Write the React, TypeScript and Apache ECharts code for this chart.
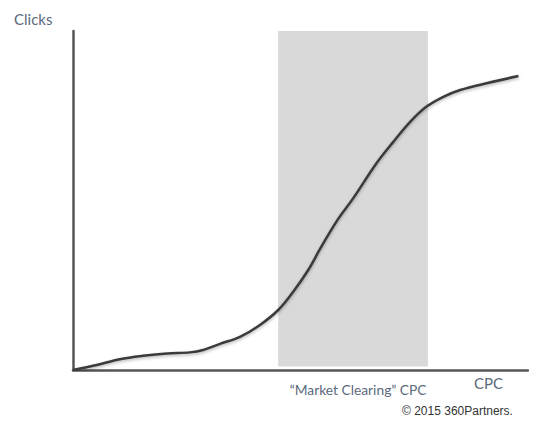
import * as echarts from 'echarts';
import { useEffect, useRef } from 'react';

// curve (CPC vs Clicks, 0-100 scale)
const cpc = [0, 5.2, 10.3, 15.4, 20.7, 25.7, 28.6, 32.3, 36.7, 41.1, 45.1, 48.4, 51.7, 54.3, 58, 61.6, 66.7, 70.4, 74.1, 77.7, 81.4, 85.1, 90.9, 97.9];
const clicks = [0, 1.5, 3.2, 4.2, 4.9, 5.2, 5.9, 7.7, 9.8, 13.3, 17.7, 23.1, 29.5, 35.7, 44, 50.7, 61, 67.3, 73.2, 77.7, 80.6, 82.6, 84.6, 86.7];

// "market clearing" band on the CPC axis
const bandFrom = 45.1;
const bandTo = 78;
const bandLabel = '\u201cMarket Clearing\u201d CPC';

const labelFont = 'Lato, "Open Sans", sans-serif';
const labelColor = '#5b6a7d';

function App() {
  const chartRef = useRef(null);

  useEffect(() => {
    const myChart = echarts.init(chartRef.current, null, { renderer: 'svg' });

    const option = {
      animation: false,
      grid: { left: 73, right: 9, top: 31, bottom: 60 },
      xAxis: {
        type: 'value',
        min: 0,
        max: 100,
        axisLine: { show: true, lineStyle: { color: '#555', width: 2.5 } },
        axisTick: { show: false },
        axisLabel: { show: false },
        splitLine: { show: false },
      },
      yAxis: {
        type: 'value',
        min: 0,
        max: 100,
        axisLine: { show: true, lineStyle: { color: '#555', width: 2.5 } },
        axisTick: { show: false },
        axisLabel: { show: false },
        splitLine: { show: false },
      },
      graphic: [
        {
          type: 'text',
          left: 14,
          top: 11,
          style: { text: 'Clicks', font: `15px ${labelFont}`, fill: labelColor },
        },
        {
          type: 'text',
          left: 474,
          top: 375,
          style: { text: 'CPC', font: `15px ${labelFont}`, fill: labelColor },
        },
        {
          type: 'text',
          left: 402,
          top: 405,
          style: { text: '\u00a9 2015 360Partners.', font: '12px "Liberation Sans", Arial, sans-serif', fill: '#333' },
        },
      ],
      series: [
        {
          type: 'line',
          smooth: 0.35,
          showSymbol: false,
          data: cpc.map((x, i) => [x, clicks[i]]),
          lineStyle: {
            color: '#3a3a3a',
            width: 2.5,
            shadowColor: 'rgba(0,0,0,0.3)',
            shadowBlur: 3,
            shadowOffsetY: 1.5,
          },
          markArea: {
            silent: true,
            itemStyle: { color: '#d9d9d9' },
            label: {
              show: true,
              position: 'bottom',
              distance: 16,
              offset: [5, 0],
              color: labelColor,
              fontFamily: labelFont,
              fontSize: 13.8,
            },
            data: [[{ name: bandLabel, xAxis: bandFrom, yAxis: 1 }, { xAxis: bandTo, yAxis: 100 }]],
          },
          z: 3,
        },
      ],
    };

    myChart.setOption(option);

    return () => {
      myChart.dispose();
    };
  }, []);

  return <div ref={chartRef} style={{ width: '537px', height: '430px', margin: '-8px' }}></div>;
}

export default App;
